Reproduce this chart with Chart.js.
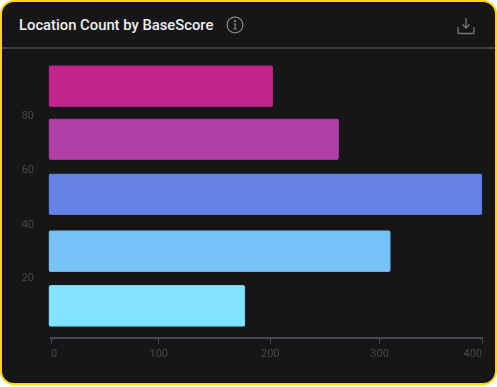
<!DOCTYPE html>
<html>
<head>
<meta charset="utf-8">
<script src="https://cdn.jsdelivr.net/npm/chart.js@4/dist/chart.umd.js"></script>
<style>
    html, body { margin: 0; padding: 0; background: #fff; }
    body { width: 497px; height: 387px; overflow: hidden; }
    .card { position: absolute; left: 0; top: 0; width: 497px; height: 385px; box-sizing: border-box;
        background: #161618; border: 2px solid #ffd900; border-radius: 14px; overflow: hidden; }
    .head { position: absolute; left: 0; top: 0; width: 100%; height: 45px; border-bottom: 2px solid #3f3f44; }
    .title { position: absolute; left: 17px; top: 14px; color: #eeeeee; font: 500 14.8px Roboto, sans-serif; white-space: nowrap; }
    svg { position: absolute; }
    canvas { position: absolute; left: 0; top: 0; }
</style>
</head>
<body>
<div class="card">
    <div class="head">
        <span class="title">Location Count by BaseScore</span>
        <svg style="left:224px;top:14px" width="18" height="18" viewBox="0 0 18 18" fill="none" stroke="#8a8a8e" stroke-width="1.2">
            <circle cx="9" cy="9" r="7.9"/>
            <path d="M7.6 8h1.6v5M7.4 13h3.4"/>
            <circle cx="9" cy="5.2" r=".5"/>
        </svg>
        <svg style="left:455px;top:15px" width="18" height="18" viewBox="0 0 18 18" fill="none" stroke="#77777b" stroke-width="1.3">
            <path d="M9 1v10M5.5 7.5L9 11l3.5-3.5"/>
            <path d="M1 10v5.5q0 1 1 1h14q1 0 1-1V10"/>
        </svg>
    </div>
</div>
<canvas id="chart" width="497" height="387"></canvas>
<script>
    const categories = [90.4, 70.9, 50.7, 29.8, 9.7];
    const counts = [205.8, 267, 400, 315, 180];
    const barColors = ['#c1258c', '#b03fa5', '#6482e6', '#76c3f8', '#82e3ff'];
    const barEdges = ['#a8217c', '#9a3791', '#5a75cf', '#6bb0e0', '#75cce5'];
    // the picture's ticks are not evenly spaced, so these are read off it
    const xTicks = [0, 100, 203.5, 305, 400];
    const xTickLabels = ['0', '100', '200', '300', '400'];
    const yTicks = [79.5, 59.6, 39.2, 19.7];
    const yTickLabels = ['80', '60', '40', '20'];

    const textColor = '#47474b';
    new Chart(document.getElementById('chart'), {
        type: 'bar',
        data: {
            datasets: [{
                data: categories.map((c, i) => ({ x: counts[i], y: c })),
                backgroundColor: barColors,
                borderColor: barEdges,
                borderWidth: 1,
                borderRadius: 2,
                borderSkipped: false,
                barThickness: 41,
                base: -2,
                clip: false
            }]
        },
        options: {
            indexAxis: 'y',
            responsive: false,
            animation: false,
            layout: { padding: { top: 60, right: 15, bottom: 22, left: 0 } },
            plugins: { legend: { display: false }, tooltip: { enabled: false } },
            scales: {
                x: {
                    type: 'linear',
                    min: 0,
                    max: 400,
                    afterBuildTicks: s => { s.ticks = xTicks.map(v => ({ value: v })); },
                    grid: { drawOnChartArea: false, drawTicks: true, tickLength: 6, color: '#47474b', tickWidth: 1 },
                    border: { color: '#47474b', width: 2 },
                    ticks: {
                        autoSkip: false, maxRotation: 0, color: textColor, padding: 4, align: 'inner',
                        font: { family: 'Roboto', size: 11 },
                        callback: (v, i) => xTickLabels[i]
                    }
                },
                y: {
                    type: 'linear',
                    offset: false,
                    min: -2,
                    max: 100,
                    afterBuildTicks: s => { s.ticks = yTicks.map(v => ({ value: v })); },
                    afterFit: s => { s.width = 51; },
                    grid: { display: false, offset: false },
                    border: { display: false },
                    ticks: {
                        autoSkip: false, color: textColor, padding: 9,
                        font: { family: 'Roboto', size: 11 },
                        callback: (v, i) => yTickLabels[i]
                    }
                }
            }
        }
    });
</script>
</body>
</html>
